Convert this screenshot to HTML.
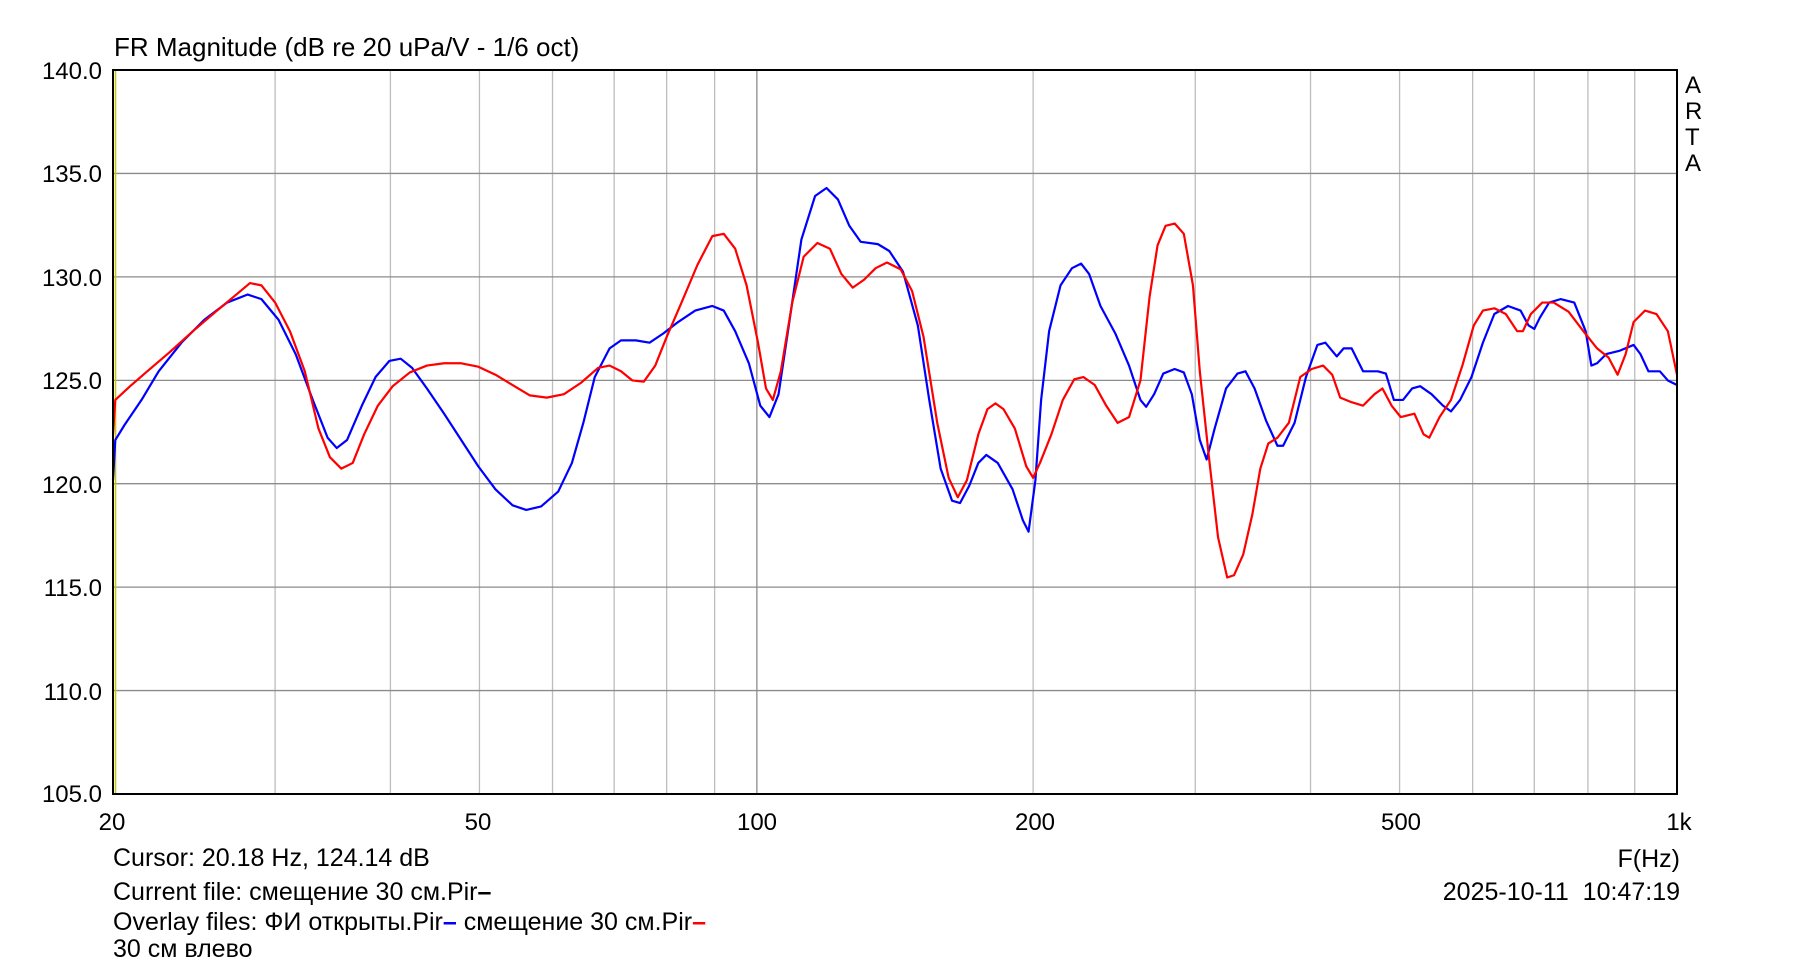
<!DOCTYPE html>
<html><head><meta charset="utf-8"><style>
html,body{margin:0;padding:0;background:#fff;}
svg{display:block;font-family:"Liberation Sans","DejaVu Sans",sans-serif;}
</style></head><body>
<svg width="1793" height="966" viewBox="0 0 1793 966" xmlns="http://www.w3.org/2000/svg">
<rect width="1793" height="966" fill="#fff"/>
<g transform="matrix(1.1416 0 0 1.1456 -1.16 -1.03)" fill="none">
  <g stroke="#bdbdbd" stroke-width="1.3">
    <line x1="242" y1="62" x2="242" y2="694" vector-effect="non-scaling-stroke"/>
    <line x1="343" y1="62" x2="343" y2="694" vector-effect="non-scaling-stroke"/>
    <line x1="421" y1="62" x2="421" y2="694" vector-effect="non-scaling-stroke"/>
    <line x1="485" y1="62" x2="485" y2="694" vector-effect="non-scaling-stroke"/>
    <line x1="539" y1="62" x2="539" y2="694" vector-effect="non-scaling-stroke"/>
    <line x1="585" y1="62" x2="585" y2="694" vector-effect="non-scaling-stroke"/>
    <line x1="627" y1="62" x2="627" y2="694" vector-effect="non-scaling-stroke"/>
    <line x1="906" y1="62" x2="906" y2="694" vector-effect="non-scaling-stroke"/>
    <line x1="1048" y1="62" x2="1048" y2="694" vector-effect="non-scaling-stroke"/>
    <line x1="1149" y1="62" x2="1149" y2="694" vector-effect="non-scaling-stroke"/>
    <line x1="1227" y1="62" x2="1227" y2="694" vector-effect="non-scaling-stroke"/>
    <line x1="1291" y1="62" x2="1291" y2="694" vector-effect="non-scaling-stroke"/>
    <line x1="1345" y1="62" x2="1345" y2="694" vector-effect="non-scaling-stroke"/>
    <line x1="1392" y1="62" x2="1392" y2="694" vector-effect="non-scaling-stroke"/>
    <line x1="1433" y1="62" x2="1433" y2="694" vector-effect="non-scaling-stroke"/>
  </g>
  <g stroke="#8c8c8c" stroke-width="1.3">
    <line x1="664" y1="62" x2="664" y2="694" vector-effect="non-scaling-stroke"/>
    <line x1="100" y1="152.3" x2="1470" y2="152.3" vector-effect="non-scaling-stroke"/>
    <line x1="100" y1="242.6" x2="1470" y2="242.6" vector-effect="non-scaling-stroke"/>
    <line x1="100" y1="332.9" x2="1470" y2="332.9" vector-effect="non-scaling-stroke"/>
    <line x1="100" y1="423.1" x2="1470" y2="423.1" vector-effect="non-scaling-stroke"/>
    <line x1="100" y1="513.4" x2="1470" y2="513.4" vector-effect="non-scaling-stroke"/>
    <line x1="100" y1="603.7" x2="1470" y2="603.7" vector-effect="non-scaling-stroke"/>
  </g>
  <line x1="102.2" y1="62" x2="102.2" y2="694" stroke="#c8c800" stroke-width="1.5" vector-effect="non-scaling-stroke"/>
  <polyline stroke="#0000ff" stroke-width="2.2" stroke-linejoin="round" vector-effect="non-scaling-stroke" points="100,420 102,385 110,372 125,350 140,325 160,300 180,280 200,265 218,258 230,262 245,280 260,310 275,350 288,383 296,392 305,385 318,355 330,330 342,316 352,314 362,322 375,340 390,362 405,385 420,408 435,428 450,442 462,446 475,443 490,430 502,405 512,370 522,330 535,305 545,298 558,298 570,300 582,292 595,282 610,272 625,268 635,272 645,290 657,318 667,355 675,365 683,345 692,285 703,210 715,172 725,165 735,175 745,198 755,212 770,214 780,220 792,238 805,285 815,350 825,410 835,438 842,440 850,425 858,405 865,398 875,405 888,428 897,455 902,465 908,420 913,350 920,290 930,250 940,235 948,231 955,240 965,268 978,292 990,320 1000,350 1005,356 1012,345 1020,327 1030,323 1038,326 1045,345 1052,385 1058,402 1065,375 1075,340 1085,327 1092,325 1100,340 1110,368 1120,390 1125,390 1135,370 1145,330 1155,302 1162,300 1172,312 1178,305 1185,305 1195,325 1208,325 1215,327 1222,350 1230,350 1238,340 1245,338 1255,345 1265,355 1272,360 1280,350 1290,330 1300,300 1310,275 1322,268 1333,272 1340,285 1345,288 1350,278 1358,265 1368,262 1380,265 1390,290 1395,320 1400,318 1408,310 1420,307 1432,302 1438,310 1445,325 1455,325 1462,333 1470,337"/>
  <polyline stroke="#ff0000" stroke-width="2.2" stroke-linejoin="round" vector-effect="non-scaling-stroke" points="100,380 102,350 115,338 130,325 150,308 170,290 190,273 208,258 220,248 230,250 242,265 255,290 268,325 280,375 290,400 300,410 310,405 320,380 332,355 345,338 360,326 375,320 390,318 405,318 420,321 435,328 450,337 465,346 480,348 495,345 510,335 525,322 535,320 545,325 555,333 565,334 575,320 585,295 598,265 612,232 625,207 635,205 645,218 655,250 665,300 672,340 678,350 685,325 695,265 705,225 717,213 728,218 738,240 748,252 758,245 768,235 778,230 790,236 800,255 810,295 822,370 832,418 840,435 848,420 858,380 866,358 873,353 880,358 890,375 900,408 906,418 912,405 922,380 932,350 942,332 950,330 960,337 970,355 980,370 990,365 1000,333 1008,260 1015,215 1022,198 1030,196 1038,205 1046,250 1052,325 1060,400 1068,470 1076,505 1082,503 1090,485 1098,450 1105,410 1112,388 1120,383 1130,370 1140,330 1150,323 1160,320 1168,328 1175,348 1185,352 1195,355 1205,345 1212,340 1220,355 1228,365 1240,362 1248,380 1253,383 1262,365 1272,350 1282,320 1292,285 1300,272 1310,270 1320,275 1330,290 1335,290 1342,275 1352,265 1362,265 1375,273 1388,290 1400,305 1410,313 1418,328 1425,310 1432,282 1442,272 1452,275 1462,290 1470,328"/>
</g>
<rect x="113" y="70" width="1564" height="724" fill="none" stroke="#000" stroke-width="2"/>
<g font-size="24" fill="#000">
  <text x="114" y="56" font-size="26">FR Magnitude (dB re 20 uPa/V - 1/6 oct)</text>
  <g text-anchor="end">
    <text x="102" y="79">140.0</text>
    <text x="102" y="182">135.0</text>
    <text x="102" y="286">130.0</text>
    <text x="102" y="389">125.0</text>
    <text x="102" y="493">120.0</text>
    <text x="102" y="596">115.0</text>
    <text x="102" y="700">110.0</text>
    <text x="102" y="802">105.0</text>
  </g>
  <g text-anchor="middle">
    <text x="112" y="830">20</text>
    <text x="478" y="830">50</text>
    <text x="757" y="830">100</text>
    <text x="1035" y="830">200</text>
    <text x="1401" y="830">500</text>
    <text x="1679" y="830">1k</text>
  </g>
  <text x="1685" y="93">A</text>
  <text x="1685" y="119">R</text>
  <text x="1685" y="145">T</text>
  <text x="1685" y="171">A</text>
  <g font-size="25">
  <text x="113" y="866">Cursor: 20.18 Hz, 124.14 dB</text>
  <text x="113" y="900">Current file: смещение 30 см.Pir<tspan font-weight="bold">–</tspan></text>
  <text x="113" y="930">Overlay files: ФИ открыты.Pir<tspan fill="#0000ff" font-weight="bold">–</tspan> смещение 30 см.Pir<tspan fill="#ff0000" font-weight="bold">–</tspan></text>
  <text x="113" y="957">30 см влево</text>
  <text x="1680" y="867" text-anchor="end">F(Hz)</text>
  <text x="1680" y="900" text-anchor="end" xml:space="preserve">2025-10-11  10:47:19</text>
  </g>
</g>
</svg>
</body></html>
